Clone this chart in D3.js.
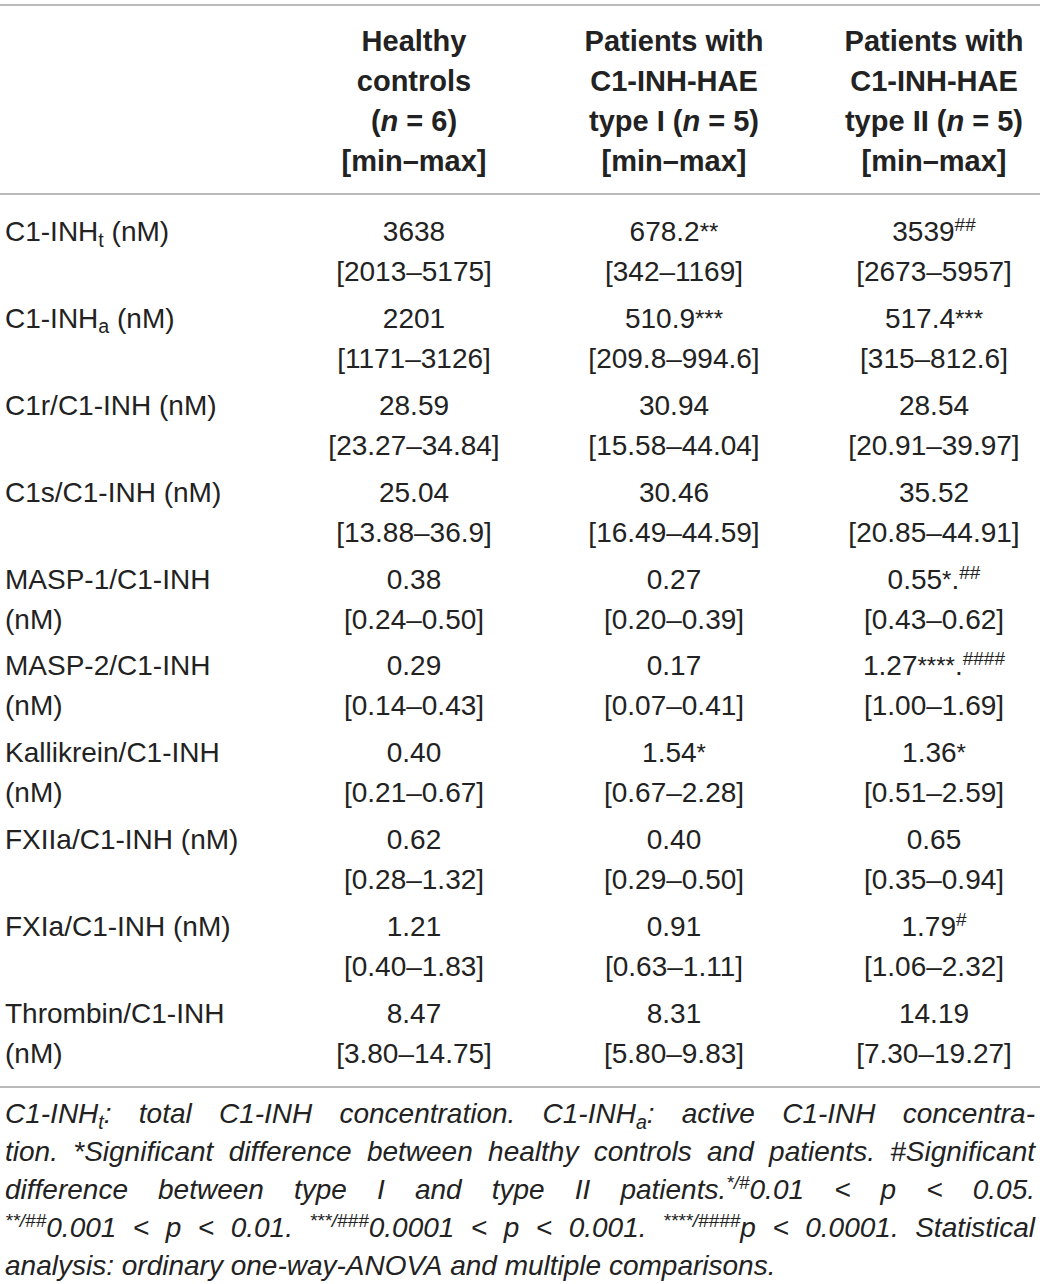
<!DOCTYPE html>
<html>
<head>
<meta charset="utf-8">
<script src="https://cdn.jsdelivr.net/npm/d3@7"></script>
<style>
  html, body { margin: 0; padding: 0; background: #fff; }
  svg { display: block; }
</style>
</head>
<body>
<div id="chart"></div>
<script>
// Tabelle: C1-INH und Komplexe, Mediane [min–max] je Gruppe

const groups = ["healthy", "typeI", "typeII"];

// Kopfzeilen; *...* = kursiv
const headerLines = [
  ["Healthy", "controls", "(*n* = 6)", "[min–max]"],
  ["Patients with", "C1-INH-HAE", "type I (*n* = 5)", "[min–max]"],
  ["Patients with", "C1-INH-HAE", "type II (*n* = 5)", "[min–max]"]
];

// _{..} = tiefgestellt
const rowLabels = [
  ["C1-INH_{t} (nM)"],
  ["C1-INH_{a} (nM)"],
  ["C1r/C1-INH (nM)"],
  ["C1s/C1-INH (nM)"],
  ["MASP-1/C1-INH", "(nM)"],
  ["MASP-2/C1-INH", "(nM)"],
  ["Kallikrein/C1-INH", "(nM)"],
  ["FXIIa/C1-INH (nM)"],
  ["FXIa/C1-INH (nM)"],
  ["Thrombin/C1-INH", "(nM)"]
];

const healthyMedian = ["3638", "2201", "28.59", "25.04", "0.38", "0.29", "0.40", "0.62", "1.21", "8.47"];
const healthyRange  = ["2013–5175", "1171–3126", "23.27–34.84", "13.88–36.9", "0.24–0.50", "0.14–0.43", "0.21–0.67", "0.28–1.32", "0.40–1.83", "3.80–14.75"];
const healthyMarks  = ["", "", "", "", "", "", "", "", "", ""];

const typeIMedian = ["678.2", "510.9", "30.94", "30.46", "0.27", "0.17", "1.54", "0.40", "0.91", "8.31"];
const typeIRange  = ["342–1169", "209.8–994.6", "15.58–44.04", "16.49–44.59", "0.20–0.39", "0.07–0.41", "0.67–2.28", "0.29–0.50", "0.63–1.11", "5.80–9.83"];
const typeIMarks  = ["**", "***", "", "", "", "", "*", "", "", ""];

const typeIIMedian = ["3539", "517.4", "28.54", "35.52", "0.55", "1.27", "1.36", "0.65", "1.79", "14.19"];
const typeIIRange  = ["2673–5957", "315–812.6", "20.91–39.97", "20.85–44.91", "0.43–0.62", "1.00–1.69", "0.51–2.59", "0.35–0.94", "1.06–2.32", "7.30–19.27"];
const typeIIMarks  = ["##", "***", "", "", "*.##", "****.####", "*", "", "#", ""];

// Fussnote, Zeilen wie im Original; ^{..} hoch, _{..} tief
const footnoteLines = [
  "C1-INH_{t}: total C1-INH concentration. C1-INH_{a}: active C1-INH concentra-",
  "tion. *Significant difference between healthy controls and patients. #Significant",
  "difference between type I and type II patients.^{*/#}0.01 < p < 0.05.",
  "^{**/##}0.001 < p < 0.01. ^{***/###}0.0001 < p < 0.001. ^{****/####}p < 0.0001. Statistical",
  "analysis: ordinary one-way-ANOVA and multiple comparisons."
];

const cols = {
  healthy: { median: healthyMedian, range: healthyRange, marks: healthyMarks },
  typeI:   { median: typeIMedian,   range: typeIRange,   marks: typeIMarks },
  typeII:  { median: typeIIMedian,  range: typeIIRange,  marks: typeIIMarks }
};

const W = 1040, H = 1284, FONT = "'Liberation Sans', Arial, Helvetica, sans-serif";
const ink = "#222", rule = "#a3a3a3";

const svg = d3.select("#chart").append("svg").attr("width", W).attr("height", H)
  .attr("font-family", FONT);

const x = d3.scalePoint().domain(groups).range([414, 934]);
const yRow = d3.scaleLinear().domain([0, rowLabels.length - 1]).range([241, 1023]);
const yHead = d3.scaleLinear().domain([0, 3]).range([51, 170.5]);
const lineGap = 40;

// Markup -> Segmente
function parse(str){
  const out = []; const re = /(\^\{[^}]*\}|_\{[^}]*\}|\*[^*\s]+\*(?=[\s)=]))/g;
  let last = 0, m;
  while((m = re.exec(str))){
    if(m.index > last) out.push({t: str.slice(last, m.index), k: "n"});
    const s = m[0];
    if(s[0] === "^") out.push({t: s.slice(2, -1), k: "sup"});
    else if(s[0] === "_") out.push({t: s.slice(2, -1), k: "sub"});
    else out.push({t: s.slice(1, -1), k: "it"});
    last = m.index + s.length;
  }
  if(last < str.length) out.push({t: str.slice(last), k: "n"});
  return out;
}

function addSegs(text, segs, size){
  let shift = 0;
  segs.forEach(s => {
    const ts = text.append("tspan").text(s.t);
    let want = 0;
    if(s.k === "sup"){ ts.attr("font-size", size * 0.68); want = -size * 0.36; }
    if(s.k === "sub"){ ts.attr("font-size", size * 0.7); want = size * 0.2; }
    if(s.k === "it") ts.attr("font-style", "italic");
    if(want !== shift){ ts.attr("dy", want - shift); shift = want; }
  });
  // Grundlinie zuruecksetzen
  if(shift !== 0) text.append("tspan").attr("dy", -shift).text("\u200b");
}

// Linien
[5, 194, 1087].forEach(y => svg.append("line").attr("x1", 0).attr("x2", W)
  .attr("y1", y).attr("y2", y).attr("stroke", rule).attr("stroke-width", 1.6));

// Kopf
const head = svg.append("g").attr("font-weight", "bold").attr("font-size", 29)
  .attr("fill", ink).attr("text-anchor", "middle");
groups.forEach((g, gi) => {
  headerLines[gi].forEach((ln, li) => {
    const t = head.append("text").attr("x", x(g)).attr("y", yHead(li));
    addSegs(t, parse(ln), 29);
  });
});

// Koerper
const body = svg.append("g").attr("font-size", 28).attr("fill", ink);
rowLabels.forEach((lines, i) => {
  lines.forEach((ln, li) => {
    const t = body.append("text").attr("x", 5).attr("y", yRow(i) + li * lineGap);
    addSegs(t, parse(ln), 28);
  });
  groups.forEach(g => {
    const c = cols[g];
    const t = body.append("text").attr("x", x(g)).attr("y", yRow(i)).attr("text-anchor", "middle");
    const segs = [{t: c.median[i], k: "n"}];
    c.marks[i].split("").forEach(ch => {
      if(ch === "#") segs.push({t: ch, k: "sup"});
      else if(ch === "*") segs.push({t: ch, k: "ast"});
      else segs.push({t: ch, k: "n"});
    });
    let shift = 0;
    segs.forEach(s => {
      const ts = t.append("tspan").text(s.t);
      let want = 0;
      if(s.k === "sup"){ ts.attr("font-size", 19); want = -10; }
      if(s.k === "ast"){ ts.attr("font-size", 24); want = -1; }
      if(want !== shift){ ts.attr("dy", want - shift); shift = want; }
    });
    body.append("text").attr("x", x(g)).attr("y", yRow(i) + lineGap)
      .attr("text-anchor", "middle").text(`[${c.range[i]}]`);
  });
});

// Fussnote, Blocksatz
const foot = svg.append("g").attr("font-size", 28).attr("font-style", "italic").attr("fill", ink);
const fx0 = 5, fx1 = 1035;
const yFoot = d3.scaleLinear().domain([0, footnoteLines.length - 1]).range([1123, 1275]);
footnoteLines.forEach((ln, li) => {
  const words = ln.split(" ");
  const nodes = words.map(w => {
    const t = foot.append("text").attr("y", yFoot(li));
    addSegs(t, parse(w), 28);
    return t;
  });
  const widths = nodes.map(n => n.node().getComputedTextLength());
  const total = d3.sum(widths);
  const last = li === footnoteLines.length - 1;
  const gap = last ? 7.8 : (fx1 - fx0 - total) / (words.length - 1);
  let cx = fx0;
  nodes.forEach((n, k) => { n.attr("x", cx); cx += widths[k] + gap; });
});
</script>
</body>
</html>
